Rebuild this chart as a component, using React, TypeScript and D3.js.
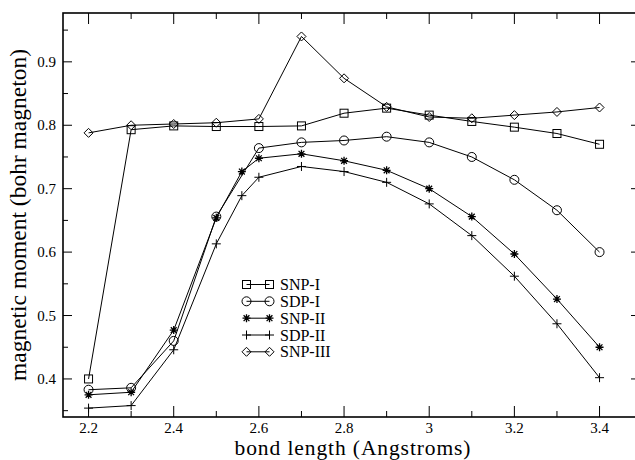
import React from "react";
import * as d3 from "d3";

const xs = [2.2, 2.3, 2.4, 2.5, 2.6, 2.7, 2.8, 2.9, 3.0, 3.1, 3.2, 3.3, 3.4];
const xsFine = [2.2, 2.3, 2.4, 2.5, 2.56, 2.6, 2.7, 2.8, 2.9, 3.0, 3.1, 3.2, 3.3, 3.4];

const snpI = [0.4, 0.793, 0.799, 0.798, 0.798, 0.799, 0.819, 0.827, 0.816, 0.806, 0.797, 0.787, 0.77];
const sdpI = [0.383, 0.386, 0.46, 0.656, 0.764, 0.773, 0.776, 0.782, 0.773, 0.75, 0.714, 0.666, 0.6];
const snpII = [0.375, 0.379, 0.477, 0.654, 0.727, 0.748, 0.755, 0.744, 0.729, 0.7, 0.656, 0.597, 0.526, 0.45];
const sdpII = [0.354, 0.358, 0.446, 0.613, 0.689, 0.718, 0.735, 0.727, 0.71, 0.676, 0.626, 0.562, 0.487, 0.402];
const snpIII = [0.788, 0.8, 0.802, 0.804, 0.81, 0.94, 0.874, 0.829, 0.813, 0.811, 0.816, 0.821, 0.828];

const seriesNames = ["SNP-I", "SDP-I", "SNP-II", "SDP-II", "SNP-III"];
const seriesSymbols = ["square", "circle", "star", "plus", "diamond"];

const xMajorTicks = [2.2, 2.4, 2.6, 2.8, 3.0, 3.2, 3.4];
const xTickLabels = ["2.2", "2.4", "2.6", "2.8", "3", "3.2", "3.4"];
const xMinorTicks = [2.3, 2.5, 2.7, 2.9, 3.1, 3.3];
const yMajorTicks = [0.4, 0.5, 0.6, 0.7, 0.8, 0.9];
const yTickLabels = ["0.4", "0.5", "0.6", "0.7", "0.8", "0.9"];
const yMinorTicks = [0.35, 0.45, 0.55, 0.65, 0.75, 0.85, 0.95];

const W = 635;
const H = 460;
const x = d3.scaleLinear().domain([2.14, 3.495]).range([63, 640]);
const y = d3.scaleLinear().domain([0.34, 0.977]).range([417, 13]);

const FONT = "'Liberation Serif', 'Times New Roman', serif";

function Marker({ type, cx, cy }: { type: string; cx: number; cy: number }) {
  const s = { fill: "none", stroke: "#000", strokeWidth: 1 };
  if (type === "square") return <rect x={cx - 4} y={cy - 4} width={8} height={8} {...s} />;
  if (type === "circle") return <circle cx={cx} cy={cy} r={4.5} {...s} />;
  if (type === "diamond")
    return <path d={`M${cx},${cy - 4.5}L${cx + 4.5},${cy}L${cx},${cy + 4.5}L${cx - 4.5},${cy}Z`} {...s} />;
  if (type === "plus")
    return <path d={`M${cx - 4.5},${cy}H${cx + 4.5}M${cx},${cy - 4.5}V${cy + 4.5}`} {...s} />;
  const a = 4;
  const b = 2.9;
  return (
    <path
      d={`M${cx - a},${cy}H${cx + a}M${cx},${cy - a}V${cy + a}M${cx - b},${cy - b}L${cx + b},${cy + b}M${cx - b},${cy + b}L${cx + b},${cy - b}`}
      {...s}
      strokeWidth={1.3}
    />
  );
}

export default function App() {
  const data: [number[], number[]][] = [
    [xs, snpI],
    [xs, sdpI],
    [xsFine, snpII],
    [xsFine, sdpII],
    [xs, snpIII],
  ];
  const line = d3
    .line<[number, number]>()
    .x((d) => x(d[0]))
    .y((d) => y(d[1]));

  const left = x.range()[0];
  const right = x.range()[1];
  const top = y.range()[1];
  const bottom = y.range()[0];

  const legendY = [284.5, 301.3, 318.2, 335, 351.8];

  return (
    <svg width={W} height={H} style={{ position: "absolute", left: 0, top: 0, background: "#fff" }}>
      <rect x={0} y={0} width={W} height={H} fill="#fff" />
      <rect x={left} y={top} width={right - left} height={bottom - top} fill="none" stroke="#000" strokeWidth={1.6} />
      {xMajorTicks.map((t, i) => (
        <g key={"xm" + i}>
          <line x1={x(t)} x2={x(t)} y1={bottom} y2={bottom - 11} stroke="#000" strokeWidth={1} />
          <line x1={x(t)} x2={x(t)} y1={top} y2={top + 11} stroke="#000" strokeWidth={1} />
          <text x={x(t)} y={bottom + 16} textAnchor="middle" fontFamily={FONT} fontSize={15}>
            {xTickLabels[i]}
          </text>
        </g>
      ))}
      {xMinorTicks.map((t, i) => (
        <g key={"xn" + i}>
          <line x1={x(t)} x2={x(t)} y1={bottom} y2={bottom - 6} stroke="#000" strokeWidth={1} />
          <line x1={x(t)} x2={x(t)} y1={top} y2={top + 6} stroke="#000" strokeWidth={1} />
        </g>
      ))}
      {yMajorTicks.map((t, i) => (
        <g key={"ym" + i}>
          <line x1={left} x2={left + 9} y1={y(t)} y2={y(t)} stroke="#000" strokeWidth={1} />
          <line x1={right} x2={right - 9} y1={y(t)} y2={y(t)} stroke="#000" strokeWidth={1} />
          <text x={56} y={y(t) + 5} textAnchor="end" fontFamily={FONT} fontSize={15}>
            {yTickLabels[i]}
          </text>
        </g>
      ))}
      {yMinorTicks.map((t, i) => (
        <g key={"yn" + i}>
          <line x1={left} x2={left + 5} y1={y(t)} y2={y(t)} stroke="#000" strokeWidth={1} />
          <line x1={right} x2={right - 5} y1={y(t)} y2={y(t)} stroke="#000" strokeWidth={1} />
        </g>
      ))}
      {data.map(([xv, yv], si) => {
        const pts = xv.map((xx, i) => [xx, yv[i]] as [number, number]);
        return (
          <g key={"s" + si}>
            <path d={line(pts) || ""} fill="none" stroke="#000" strokeWidth={1} />
            {pts.map((p, i) => (
              <Marker key={i} type={seriesSymbols[si]} cx={x(p[0])} cy={y(p[1])} />
            ))}
          </g>
        );
      })}
      {seriesNames.map((n, i) => (
        <g key={"l" + i}>
          <line x1={246.5} x2={269.5} y1={legendY[i]} y2={legendY[i]} stroke="#000" strokeWidth={1} />
          <Marker type={seriesSymbols[i]} cx={246.5} cy={legendY[i]} />
          <Marker type={seriesSymbols[i]} cx={269.5} cy={legendY[i]} />
          <text x={280} y={legendY[i] + 5.5} fontFamily={FONT} fontSize={16}>
            {n}
          </text>
        </g>
      ))}
      <text x={353} y={454.5} textAnchor="middle" fontFamily={FONT} fontSize={21.5} letterSpacing={0.9}>
        bond length (Angstroms)
      </text>
      <text
        transform={`translate(26,215) rotate(-90)`}
        textAnchor="middle"
        fontFamily={FONT}
        fontSize={23.5}
      >
        magnetic moment (bohr magneton)
      </text>
    </svg>
  );
}
